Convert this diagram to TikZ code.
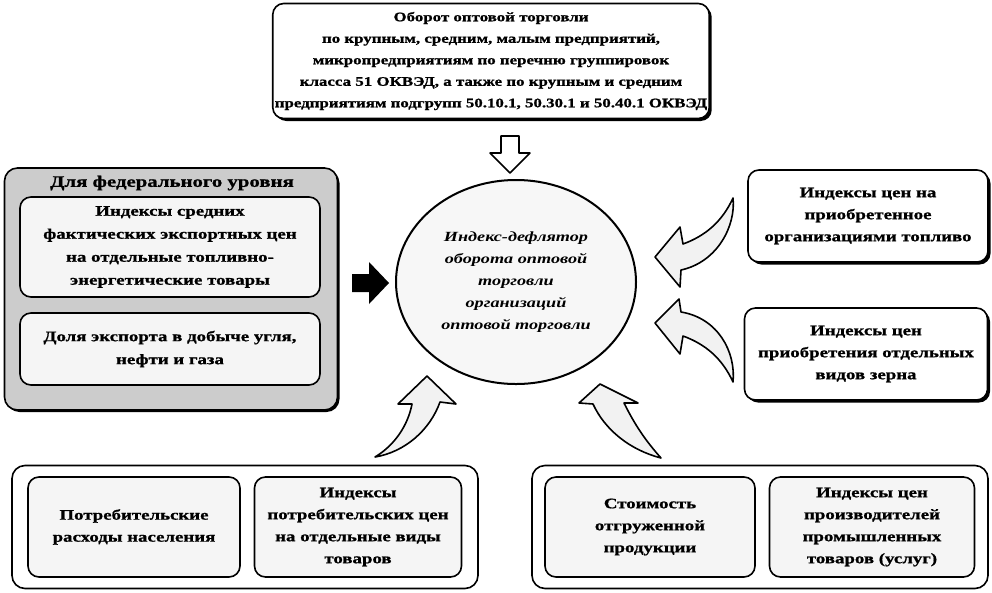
\documentclass[tikz,border=0pt]{standalone}
\usepackage{fontspec}
\setmainfont[FakeStretch=1.3,BoldFeatures={FakeBold=1}]{Liberation Serif}
\usetikzlibrary{shadows,shapes.geometric}
\begin{document}
\begin{tikzpicture}[x=1pt,y=-1pt,line join=round,
	box/.style={draw,line width=1.6pt,rounded corners=11pt,align=center,fill=white,
		font=\fontsize{14.5}{22}\selectfont\bfseries,inner sep=2pt,
		drop shadow={shadow xshift=2.5pt,shadow yshift=-2.5pt,opacity=1,fill=black}},
	inbox/.style={draw,line width=1.6pt,rounded corners=11pt,align=center,fill=gray!8,
		font=\fontsize{14.5}{23}\selectfont\bfseries,inner sep=2pt},
	outbox/.style={draw,line width=1.6pt,rounded corners=13pt,fill=white},
	swoosh/.style={draw,line width=1.6pt,fill=gray!10}]
	\useasboundingbox (0,0) rectangle (992,592);
	% top
	\node[box,minimum width=436pt,minimum height=115pt,font=\fontsize{13}{21.5}\selectfont\bfseries] (oborot) at (491,61) {Оборот оптовой торговли\\по крупным, средним, малым предприятий,\\микропредприятиям по перечню группировок\\класса 51 ОКВЭД, а также по крупным и средним\\предприятиям подгрупп 50.10.1, 50.30.1 и 50.40.1 ОКВЭД};
	% left
	\node[outbox,fill=gray!40,minimum width=333pt,minimum height=242pt,
		drop shadow={shadow xshift=2pt,shadow yshift=-2pt,opacity=1,fill=black}] (fed) at (171,289) {};
	\node[font=\fontsize{16}{18}\selectfont\bfseries] (fedtitle) at (172,183) {Для федерального уровня};
	\node[inbox,minimum width=300pt,minimum height=100pt] (eksp) at (170,247) {Индексы средних\\фактических экспортных цен\\на отдельные топливно-\\энергетические товары};
	\node[inbox,minimum width=300pt,minimum height=72pt] (dolya) at (170,349) {Доля экспорта в добыче угля,\\нефти и газа};
	% centre
	\node[draw,ellipse,line width=2pt,fill=gray!6,minimum width=240pt,minimum height=204pt,align=center,
		font=\fontsize{14}{22}\selectfont\bfseries\itshape] (deflator) at (516,282)
		{Индекс-дефлятор\\оборота оптовой\\торговли\\организаций\\оптовой торговли};
	% right
	\node[box,minimum width=240pt,minimum height=92pt] (toplivo) at (868,216) {Индексы цен на\\приобретенное\\организациями топливо};
	\node[box,minimum width=243pt,minimum height=92pt] (zerno) at (866,354) {Индексы цен\\приобретения отдельных\\видов зерна};
	% bottom
	\node[outbox,minimum width=466pt,minimum height=123pt] (naselenie) at (245,527) {};
	\node[inbox,minimum width=212pt,minimum height=100pt,font=\fontsize{14.5}{22}\selectfont\bfseries] (rashody) at (134,527) {Потребительские\\расходы населения};
	\node[inbox,minimum width=207pt,minimum height=100pt,font=\fontsize{14.5}{22}\selectfont\bfseries] (ipc) at (358,527) {Индексы\\потребительских цен\\на отдельные виды\\товаров};
	\node[outbox,minimum width=456pt,minimum height=123pt] (promysh) at (760,527) {};
	\node[inbox,minimum width=210pt,minimum height=100pt,font=\fontsize{14.5}{22}\selectfont\bfseries] (otgruz) at (650,527) {Стоимость\\отгруженной\\продукции};
	\node[inbox,minimum width=205pt,minimum height=100pt,font=\fontsize{14.5}{22}\selectfont\bfseries] (ipp) at (872,527) {Индексы цен\\производителей\\промышленных\\товаров (услуг)};
	% arrows
	\draw[line width=1.6pt,fill=white] (501,136) -- (519,136) -- (519,153) -- (530,153) -- (510,173)
		-- (490,153) -- (501,153) -- cycle;
	\fill (352,274) -- (369,274) -- (369,262) -- (389,283) -- (369,304) -- (369,292) -- (352,292) -- cycle;
	\draw[swoosh] (655,257) -- (680,227) -- (683,244) .. controls (705,236) and (722,222) .. (733,198)
		.. controls (736,225) and (718,262) .. (681,270) -- (680,287) -- cycle;
	\draw[swoosh] (655,323) -- (679,299) -- (681,312) .. controls (718,318) and (736,352) .. (733,382)
		.. controls (722,358) and (705,344) .. (683,336) -- (680,354) -- cycle;
	\draw[swoosh] (427,376) -- (398,404) -- (412,404) .. controls (408,425) and (395,445) .. (375,457)
		.. controls (405,452) and (430,430) .. (440,402) -- (456,404) -- cycle;
	\draw[swoosh] (600,384) -- (579,403) -- (593,404) .. controls (605,430) and (630,450) .. (661,458)
		.. controls (645,440) and (635,425) .. (624,403) -- (638,403) -- cycle;
\end{tikzpicture}
\end{document}
